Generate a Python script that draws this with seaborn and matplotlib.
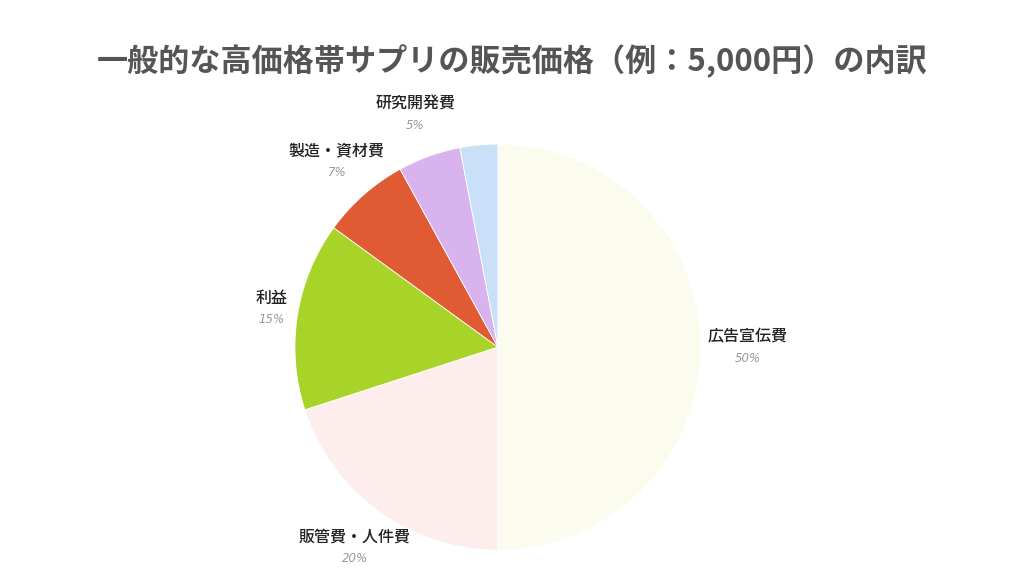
import numpy as np
import matplotlib.pyplot as plt
import seaborn as sns

sns.set_theme(style="white")
plt.rcParams["font.family"] = ["Noto Sans CJK JP", "DejaVu Sans"]

# data
labels = ["広告宣伝費", "販管費・人件費", "利益", "製造・資材費", "研究開発費", ""]
shares = [50, 20, 15, 7, 5, 3]
pct_text = ["50%", "20%", "15%", "7%", "5%", ""]
colors = ["#FBFBEE", "#FDEDEC", "#A8D42A", "#E05A33", "#D9B3EE", "#C9E0F8"]

fig = plt.figure(figsize=(10.24, 5.76), dpi=100)
ax = fig.add_axes([0.288, 0.045, 406 / 1024, 406 / 576])

wedges, _ = ax.pie(shares, colors=colors, startangle=90, counterclock=False,
                   radius=1.0, wedgeprops=dict(linewidth=0.6, edgecolor="white"))
ax.set_xlim(-1, 1)
ax.set_ylim(-1, 1)
ax.set_aspect("equal")
ax.axis("off")

for w, name, pct in zip(wedges, labels, pct_text):
    if not name:
        continue
    ang = np.deg2rad((w.theta1 + w.theta2) / 2)
    r = 1.2 if abs(np.cos(ang)) < 0.9 else 1.13
    x, y = r * np.cos(ang), 1.22 * np.sin(ang)
    if name == "広告宣伝費":
        x = 1.23
    ax.text(x, y + 0.05, name, ha="center", va="center", fontsize=11.5,
            fontweight="medium", color="#222222", clip_on=False)
    ax.text(x, y - 0.055, pct, ha="center", va="center", fontsize=8.5,
            style="italic", color="#999999", clip_on=False,
            family=["DejaVu Sans"])

fig.text(0.5, 0.893, "一般的な高価格帯サプリの販売価格（例：5,000円）の内訳",
         ha="center", va="center", fontsize=22.4, fontweight="bold", color="#555555")

fig.savefig("out.png", dpi=100, facecolor="white")
